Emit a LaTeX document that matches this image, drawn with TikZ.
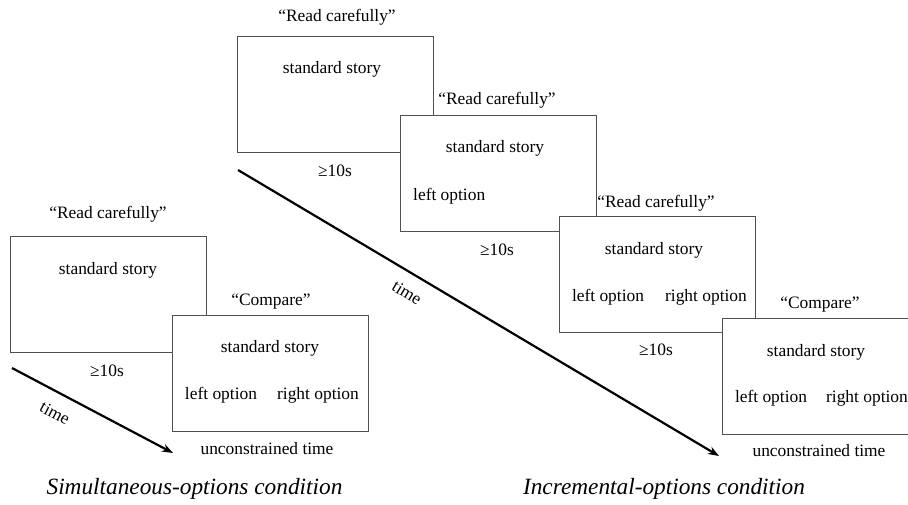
\documentclass[tikz,border=0pt]{standalone}
\usepackage{fontspec}
\setmainfont{Liberation Serif}
\usetikzlibrary{arrows.meta}
\definecolor{boxline}{HTML}{505050}
\tikzset{
  screen/.style={draw=boxline, line width=0.9pt, fill=white, minimum width=196pt, minimum height=116pt, inner sep=0pt},
  txt/.style={font=\fontsize{17.4}{20}\selectfont, inner sep=0pt, text=black},
  ttl/.style={font=\fontsize{23.3}{27}\selectfont\itshape, inner sep=0pt},
  timearrow/.style={line width=2.2pt, -{Stealth[length=11pt,width=8pt]}},
}
\begin{document}
\begin{tikzpicture}[x=1pt,y=-1pt]
\useasboundingbox (0,0) rectangle (908,504);
\clip (0,0) rectangle (908,504);
\fill[white] (0,0) rectangle (908,504);

% ---------- Simultaneous-options condition ----------
\node[screen] (L1) at (108.5,294) {};
\node[txt] (L1q) at (108,214) {``Read carefully''};
\node[txt] (L1s) at (108,270) {standard story};
\node[txt] (L1t) at (107,371) {≥10s};

\node[screen] (L2) at (270,373) {};
\node[txt] (L2q) at (271,302) {``Compare''};
\node[txt] (L2s) at (270,348) {standard story};
\node[txt] (L2l) at (221,395) {left option};
\node[txt] (L2r) at (318,395) {right option};
\node[txt] (L2t) at (267,449) {unconstrained time};

\coordinate (LA) at (12,368);
\coordinate (LB) at (173,453);
\draw[timearrow] (LA) -- (LB);
\node[txt, rotate=-28] (Ltime) at (55,413) {time};

\node[ttl] (Ltitle) at (194.5,489) {Simultaneous-options condition};

% ---------- Incremental-options condition ----------
\node[screen] (R1) at (335.5,94) {};
\node[txt] (R1q) at (337,17) {``Read carefully''};
\node[txt] (R1s) at (332,69) {standard story};
\node[txt] (R1t) at (335,171) {≥10s};

\node[screen] (R2) at (498,173) {};
\node[txt] (R2q) at (497,100) {``Read carefully''};
\node[txt] (R2s) at (495,148) {standard story};
\node[txt, anchor=west] (R2l) at (413,196) {left option};
\node[txt] (R2t) at (497,250) {≥10s};

\node[screen] (R3) at (657.5,274.5) {};
\node[txt] (R3q) at (656,203) {``Read carefully''};
\node[txt] (R3s) at (654,250) {standard story};
\node[txt] (R3l) at (608,297) {left option};
\node[txt] (R3r) at (706,297) {right option};
\node[txt] (R3t) at (656,350) {≥10s};

\node[screen] (R4) at (820,376.5) {};
\node[txt] (R4q) at (820,305) {``Compare''};
\node[txt] (R4s) at (816,352) {standard story};
\node[txt] (R4l) at (771,398) {left option};
\node[txt] (R4r) at (867,398) {right option};
\node[txt] (R4t) at (819,451) {unconstrained time};

\coordinate (RA) at (238,170);
\coordinate (RB) at (719,456);
\draw[timearrow] (RA) -- (RB);
\node[txt, rotate=-31] (Rtime) at (407,293) {time};

\node[ttl] (Rtitle) at (664,489) {Incremental-options condition};
\end{tikzpicture}
\end{document}
